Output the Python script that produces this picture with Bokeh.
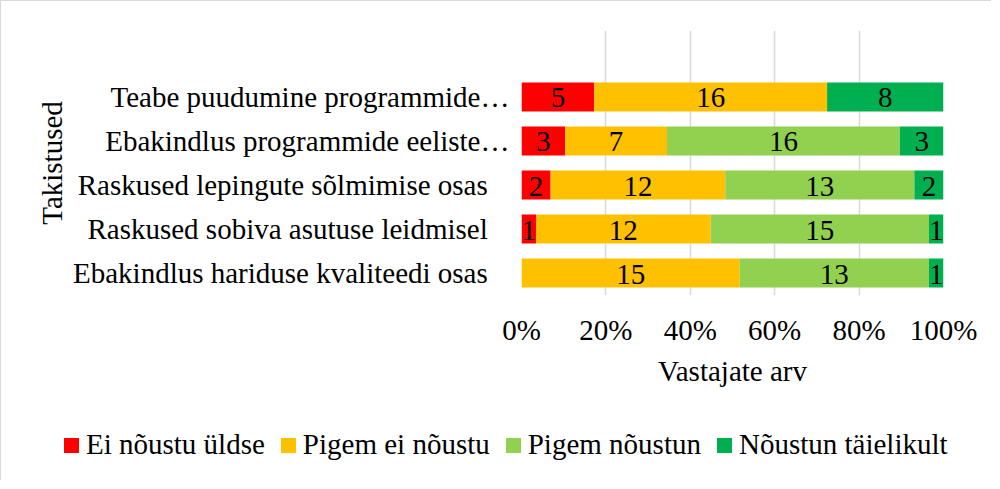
from bokeh.plotting import figure
from bokeh.layouts import column
from bokeh.models import (Range1d, FixedTicker, NumeralTickFormatter, ColumnDataSource, Div)
from bokeh.core.properties import value
from bokeh.embed import file_html
from bokeh.resources import INLINE

# categories listed bottom to top
categories = [
    "Ebakindlus hariduse kvaliteedi osas",
    "Raskused sobiva asutuse leidmisel",
    "Raskused lepingute sõlmimise osas",
    "Ebakindlus programmide eeliste…",
    "Teabe puudumine programmide…",
]
series_names = ["Ei nõustu üldse", "Pigem ei nõustu", "Pigem nõustun", "Nõustun täielikult"]
ei_noustu_uldse = [0, 1, 2, 3, 5]
pigem_ei_noustu = [15, 12, 12, 7, 16]
pigem_noustun = [13, 15, 13, 16, 0]
noustun_taielikult = [1, 1, 2, 3, 8]
colors = ["#FF0000", "#FFC000", "#92D050", "#00B050"]
x_ticks = [0, 0.2, 0.4, 0.6, 0.8, 1.0]

FONT = "Liberation Serif"
FS = "29px"
BORDER = "1px solid #d9d9d9"

counts = [ei_noustu_uldse, pigem_ei_noustu, pigem_noustun, noustun_taielikult]
keys = ["s0", "s1", "s2", "s3"]
totals = [sum(c[i] for c in counts) for i in range(len(categories))]
ypos = list(range(len(categories)))

data = {"y": ypos}
for k, c in zip(keys, counts):
    data[k] = [v / t for v, t in zip(c, totals)]
source = ColumnDataSource(data)

p = figure(width=991, height=400, output_backend="svg", toolbar_location=None,
           x_range=Range1d(0, 1), y_range=Range1d(-0.511, 5.511),
           min_border_left=520, min_border_right=49, min_border_top=29,
           min_border_bottom=106)
p.margin = 0
p.styles = {"border-top": BORDER, "border-left": BORDER}
p.outline_line_color = None
p.background_fill_color = "white"
p.border_fill_color = "white"

renderers = p.hbar_stack(keys, y="y", height=0.66, color=colors, source=source, line_width=0)

# data labels
lx, ly, lt = [], [], []
for i in range(len(categories)):
    left = 0.0
    for c in counts:
        frac = c[i] / totals[i]
        if c[i] > 0:
            lx.append(left + frac / 2)
            ly.append(ypos[i])
            lt.append(str(c[i]))
        left += frac
lab_src = ColumnDataSource(dict(x=lx, y=ly, t=lt))
p.text(x="x", y="y", text="t", source=lab_src, text_align="center", text_baseline="middle",
       text_font=value(FONT), text_font_size=FS, text_color="black", y_offset=1)

# axes
p.xaxis.ticker = FixedTicker(ticks=x_ticks)
p.xaxis.formatter = NumeralTickFormatter(format="0%")
p.xaxis.axis_label = "Vastajate arv"
p.yaxis.ticker = FixedTicker(ticks=ypos)
# truncated labels run up to the bars; full ones keep a gap
p.yaxis.major_label_overrides = {
    i: (c if c.endswith("…") else c + "\u00a0" * 3) for i, c in enumerate(categories)}
p.yaxis.axis_label = "Takistused"
for ax in (p.xaxis, p.yaxis):
    ax.axis_line_color = None
    ax.major_tick_line_color = None
    ax.minor_tick_line_color = None
    ax.major_label_text_font = FONT
    ax.major_label_text_font_size = FS
    ax.major_label_text_color = "black"
    ax.axis_label_text_font = FONT
    ax.axis_label_text_font_size = FS
    ax.axis_label_text_font_style = "normal"
    ax.axis_label_text_color = "black"
p.xaxis.major_label_standoff = 12
p.xaxis.axis_label_standoff = 6
p.yaxis.major_label_standoff = 6
p.yaxis.axis_label_standoff = 2

p.xgrid.grid_line_color = "#d9d9d9"
p.xgrid.grid_line_width = 1.5
p.ygrid.grid_line_color = None

# legend row (HTML so it can span the full chart width)
parts = []
for i, (n, c) in enumerate(zip(series_names, colors)):
    gap = "" if i == 0 else '<span style="display:inline-block;width:16px"></span>'
    parts.append(
        gap + f'<span style="display:inline-block;width:15px;height:15px;background:{c};'
        f'margin-right:7px;vertical-align:middle;position:relative;top:-2px"></span>{n}')
html = (f'<div style="font-family:\'{FONT}\';font-size:{FS};color:black;white-space:nowrap;'
        f'padding-left:63px;padding-top:27px;line-height:34px">' + "".join(parts) + "</div>")
legend_div = Div(text=html, width=991, height=80, margin=0, styles={"border-left": BORDER})

layout = column(p, legend_div, spacing=0)
open("out.html", "w").write(file_html(layout, INLINE))
